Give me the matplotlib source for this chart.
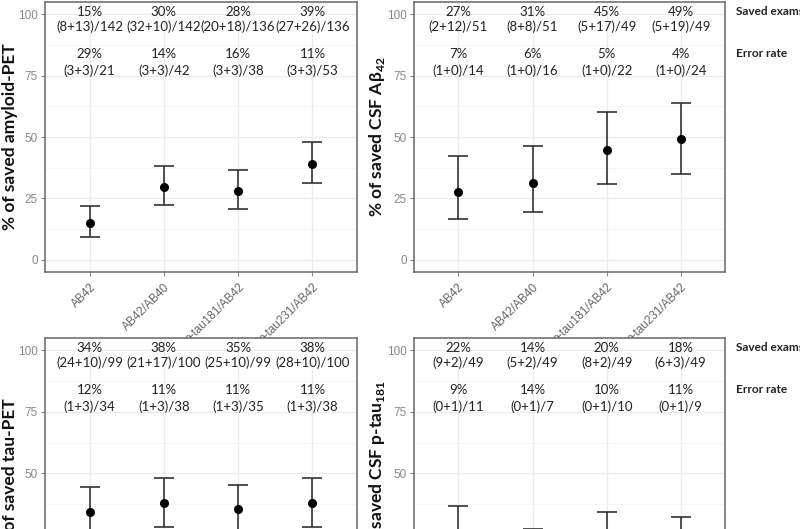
import numpy as np
import matplotlib.pyplot as plt
from matplotlib.ticker import MultipleLocator

plt.rcParams['mathtext.fontset'] = 'custom'
plt.rcParams['mathtext.rm'] = 'Lato'
plt.rcParams['mathtext.bf'] = 'Lato:bold'

# categories (x axis)
markers = ['AB42', 'AB42/AB40', 'p-tau181/AB42', 'p-tau231/AB42']

# amyloid-PET
amy_mid = [14.8, 29.6, 27.9, 39.0]
amy_lo = [9.3, 22.5, 20.6, 31.2]
amy_hi = [22.0, 38.2, 36.7, 47.8]
amy_saved = ['15%', '30%', '28%', '39%']
amy_saved_n = ['(8+13)/142', '(32+10)/142', '(20+18)/136', '(27+26)/136']
amy_err = ['29%', '14%', '16%', '11%']
amy_err_n = ['(3+3)/21', '(3+3)/42', '(3+3)/38', '(3+3)/53']

# CSF Abeta42
csf_mid = [27.5, 31.4, 44.9, 49.0]
csf_lo = [16.5, 19.5, 31.0, 35.0]
csf_hi = [42.3, 46.5, 60.0, 63.9]
csf_saved = ['27%', '31%', '45%', '49%']
csf_saved_n = ['(2+12)/51', '(8+8)/51', '(5+17)/49', '(5+19)/49']
csf_err = ['7%', '6%', '5%', '4%']
csf_err_n = ['(1+0)/14', '(1+0)/16', '(1+0)/22', '(1+0)/24']

# tau-PET
tau_mid = [34.3, 38.0, 35.4, 38.0]
tau_lo = [25.0, 28.3, 26.3, 28.3]
tau_hi = [44.4, 48.0, 45.2, 48.0]
tau_saved = ['34%', '38%', '35%', '38%']
tau_saved_n = ['(24+10)/99', '(21+17)/100', '(25+10)/99', '(28+10)/100']
tau_err = ['12%', '11%', '11%', '11%']
tau_err_n = ['(1+3)/34', '(1+3)/38', '(1+3)/35', '(1+3)/38']

# CSF p-tau181
ptau_mid = [22.4, 14.3, 20.4, 18.4]
ptau_lo = [12.0, 6.5, 10.8, 9.2]
ptau_hi = [36.9, 27.6, 34.4, 32.4]
ptau_saved = ['22%', '14%', '20%', '18%']
ptau_saved_n = ['(9+2)/49', '(5+2)/49', '(8+2)/49', '(6+3)/49']
ptau_err = ['9%', '14%', '10%', '11%']
ptau_err_n = ['(0+1)/11', '(0+1)/7', '(0+1)/10', '(0+1)/9']

FONT = ['Lato', 'DejaVu Sans']
TICK_FONT = ['Liberation Sans', 'DejaVu Sans']

fig = plt.figure(figsize=(8, 5.29), dpi=100)


def panel(rect, mid, lo, hi, saved, saved_n, err, err_n, ylabel, side_labels):
    ax = fig.add_axes(rect)
    x = np.arange(1, len(markers) + 1)
    mid = np.array(mid)
    yerr = [mid - np.array(lo), np.array(hi) - mid]
    ax.errorbar(x, mid, yerr=yerr, fmt='o', color='black', ecolor='#333333',
                elinewidth=1.2, capsize=7, capthick=1.2, markersize=5.5, zorder=3)
    ax.set_xlim(0.4, 4.6)
    ax.set_ylim(-5, 105)
    ax.yaxis.set_major_locator(MultipleLocator(25))
    ax.yaxis.set_minor_locator(MultipleLocator(12.5))
    ax.set_xticks(x)
    ax.set_xticklabels(markers, rotation=45, ha='right', va='top',
                       rotation_mode='anchor', fontsize=8.5, color='#666666',
                       family=TICK_FONT)
    for lab in ax.get_yticklabels():
        lab.set_family(TICK_FONT)
    ax.tick_params(axis='y', labelsize=8.5, labelcolor='#888888', color='#888888',
                   length=3, width=0.8, pad=2)
    ax.tick_params(axis='x', color='#888888', length=3, width=0.8)
    ax.tick_params(which='minor', length=0)
    ax.grid(which='major', color='#ebebeb', linewidth=0.9)
    ax.grid(which='minor', axis='y', color='#f2f2f2', linewidth=0.6)
    ax.set_axisbelow(True)
    for sp in ax.spines.values():
        sp.set_color('#666666')
        sp.set_linewidth(1.1)

    for i in range(len(markers)):
        ax.text(x[i], 100.8, saved[i], ha='center', va='center', fontsize=9.5,
                color='#222222', family=FONT)
        ax.text(x[i], 95, saved_n[i], ha='center', va='center', fontsize=9.5,
                color='#222222', family=FONT)
        ax.text(x[i], 83.8, err[i], ha='center', va='center', fontsize=9.5,
                color='#222222', family=FONT)
        ax.text(x[i], 77, err_n[i], ha='center', va='center', fontsize=9.5,
                color='#222222', family=FONT)

    ax.set_ylabel(ylabel, fontsize=12.5, fontweight='bold', family=FONT,
                  color='#111111')
    ax.yaxis.set_label_coords(-0.088, 0.5)

    if side_labels:
        tr = ax.get_yaxis_transform()
        ax.text(1.035, 101, 'Saved exams', transform=tr, ha='left', va='center',
                fontsize=8.5, fontweight='bold', family=FONT, color='#222222',
                clip_on=False)
        ax.text(1.035, 84, 'Error rate', transform=tr, ha='left', va='center',
                fontsize=8.5, fontweight='bold', family=FONT, color='#222222',
                clip_on=False)
    return ax


panel([0.05625, 0.4858, 0.39, 0.5104], amy_mid, amy_lo, amy_hi, amy_saved,
      amy_saved_n, amy_err, amy_err_n, '% of saved amyloid-PET', False)
panel([0.5175, 0.4858, 0.389, 0.5104], csf_mid, csf_lo, csf_hi, csf_saved,
      csf_saved_n, csf_err, csf_err_n, r'% of saved CSF Aβ$_{\mathbf{42}}$', True)
panel([0.05625, -0.1512, 0.39, 0.5123], tau_mid, tau_lo, tau_hi, tau_saved,
      tau_saved_n, tau_err, tau_err_n, '% of saved tau-PET', False)
panel([0.5175, -0.1512, 0.389, 0.5123], ptau_mid, ptau_lo, ptau_hi, ptau_saved,
      ptau_saved_n, ptau_err, ptau_err_n, r'% of saved CSF p-tau$_{\mathbf{181}}$', True)

fig.savefig('out.png', dpi=100)
